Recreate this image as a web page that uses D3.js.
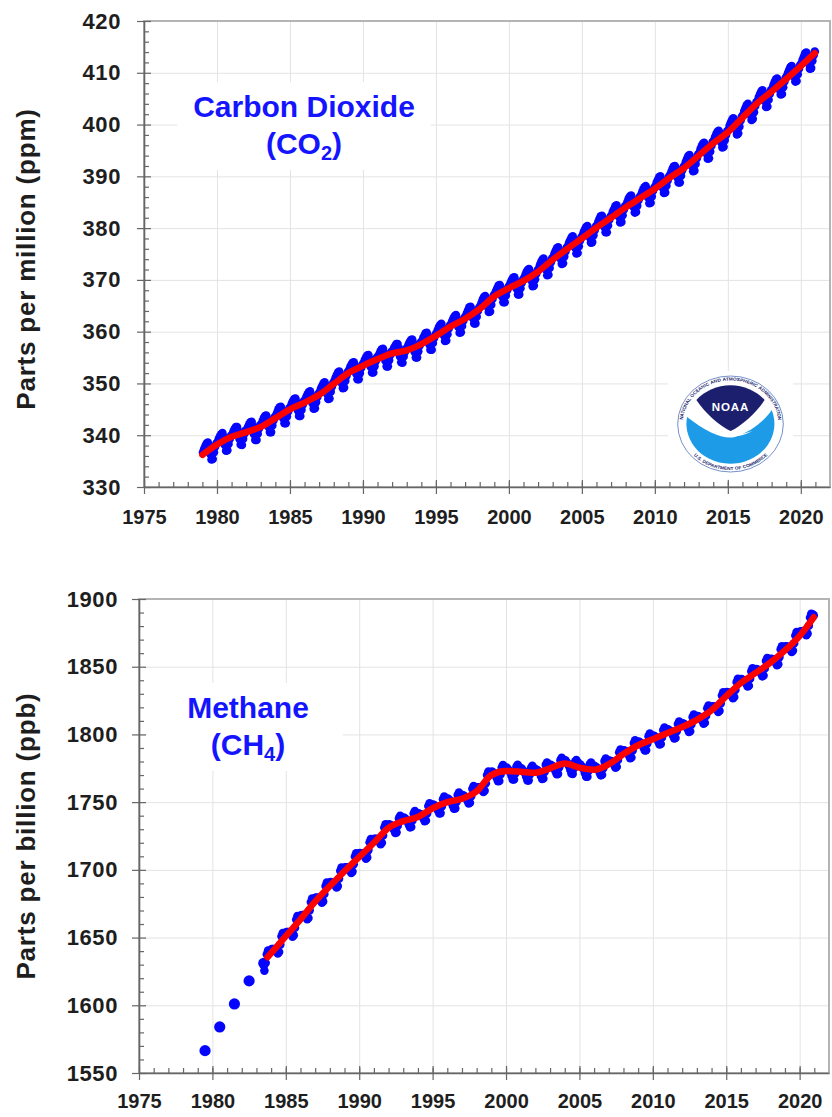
<!DOCTYPE html>
<html>
<head>
<meta charset="utf-8">
<script src="https://cdn.jsdelivr.net/npm/d3@7"></script>
<style>
  body { margin: 0; background: #fff; }
  svg { display: block; }
  text { font-family: "Liberation Sans", Arial, Helvetica, sans-serif; }
</style>
</head>
<body>
<svg id="chart" width="832" height="1117"></svg>
<script>
// ---- Axis tick values ----
const yearTicks = [1975, 1980, 1985, 1990, 1995, 2000, 2005, 2010, 2015, 2020];
const co2Ticks = [330, 340, 350, 360, 370, 380, 390, 400, 410, 420];
const ch4Ticks = [1550, 1600, 1650, 1700, 1750, 1800, 1850, 1900];

// ---- Global monthly mean CO2 (ppm), one row per year: [year, Jan..Dec] ----
const co2Monthly = [
  [1979, 336.7, 337.4, 337.9, 338.4, 338.6, 337.8, 336.4, 335.3, 335.4, 336.7, 337.8, 338.4],
  [1980, 338.7, 339.3, 339.8, 340.2, 340.4, 339.6, 338.1, 337.0, 337.1, 338.3, 339.3, 339.9],
  [1981, 340.1, 340.7, 341.2, 341.6, 341.6, 340.8, 339.3, 338.2, 338.1, 339.3, 340.3, 340.9],
  [1982, 341.0, 341.6, 342.1, 342.5, 342.6, 341.8, 340.2, 339.1, 339.1, 340.3, 341.3, 341.9],
  [1983, 342.1, 342.7, 343.3, 343.7, 343.8, 343.1, 341.6, 340.6, 340.6, 341.9, 342.9, 343.5],
  [1984, 343.8, 344.4, 345.0, 345.4, 345.5, 344.8, 343.3, 342.3, 342.3, 343.6, 344.6, 345.2],
  [1985, 345.5, 346.1, 346.6, 347.0, 347.1, 346.3, 344.8, 343.7, 343.7, 344.9, 345.9, 346.6],
  [1986, 346.8, 347.4, 347.9, 348.3, 348.5, 347.7, 346.2, 345.1, 345.2, 346.4, 347.4, 348.0],
  [1987, 348.3, 349.0, 349.5, 350.0, 350.2, 349.5, 348.0, 347.0, 347.1, 348.4, 349.4, 350.1],
  [1988, 350.4, 351.1, 351.6, 352.1, 352.3, 351.6, 350.1, 349.1, 349.2, 350.5, 351.5, 352.2],
  [1989, 352.5, 353.1, 353.6, 354.0, 354.1, 353.3, 351.9, 350.8, 350.8, 352.0, 353.0, 353.6],
  [1990, 353.9, 354.5, 355.0, 355.4, 355.5, 354.7, 353.2, 352.1, 352.1, 353.3, 354.3, 355.0],
  [1991, 355.2, 355.7, 356.2, 356.6, 356.7, 355.9, 354.4, 353.3, 353.3, 354.5, 355.5, 356.1],
  [1992, 356.2, 356.8, 357.2, 357.6, 357.6, 356.8, 355.2, 354.1, 354.0, 355.2, 356.1, 356.7],
  [1993, 356.9, 357.5, 358.0, 358.4, 358.5, 357.7, 356.1, 355.0, 355.0, 356.2, 357.3, 357.9],
  [1994, 358.1, 358.7, 359.2, 359.7, 359.8, 359.0, 357.6, 356.5, 356.5, 357.8, 358.8, 359.4],
  [1995, 359.7, 360.3, 360.9, 361.3, 361.5, 360.7, 359.3, 358.2, 358.3, 359.5, 360.6, 361.2],
  [1996, 361.5, 362.1, 362.6, 363.0, 363.2, 362.4, 360.9, 359.8, 359.9, 361.1, 362.1, 362.7],
  [1997, 363.0, 363.6, 364.2, 364.7, 364.8, 364.1, 362.6, 361.6, 361.6, 362.9, 364.0, 364.6],
  [1998, 364.9, 365.6, 366.2, 366.7, 366.9, 366.2, 364.8, 363.8, 363.9, 365.2, 366.3, 367.0],
  [1999, 367.3, 367.9, 368.4, 368.9, 369.0, 368.2, 366.8, 365.7, 365.7, 367.0, 368.0, 368.6],
  [2000, 368.9, 369.5, 370.0, 370.4, 370.5, 369.7, 368.3, 367.2, 367.2, 368.4, 369.4, 370.0],
  [2001, 370.3, 370.9, 371.5, 371.9, 372.1, 371.3, 369.9, 368.8, 368.9, 370.1, 371.2, 371.8],
  [2002, 372.1, 372.8, 373.4, 373.9, 374.1, 373.4, 372.0, 370.9, 371.0, 372.3, 373.4, 374.1],
  [2003, 374.4, 375.1, 375.6, 376.1, 376.3, 375.6, 374.1, 373.1, 373.2, 374.5, 375.5, 376.2],
  [2004, 376.5, 377.2, 377.7, 378.2, 378.4, 377.6, 376.2, 375.1, 375.2, 376.5, 377.6, 378.2],
  [2005, 378.5, 379.2, 379.7, 380.2, 380.4, 379.7, 378.2, 377.2, 377.3, 378.6, 379.6, 380.3],
  [2006, 380.6, 381.2, 381.8, 382.3, 382.4, 381.7, 380.2, 379.2, 379.2, 380.5, 381.6, 382.2],
  [2007, 382.5, 383.2, 383.7, 384.2, 384.4, 383.6, 382.2, 381.1, 381.2, 382.5, 383.6, 384.2],
  [2008, 384.5, 385.1, 385.7, 386.1, 386.3, 385.5, 384.1, 383.0, 383.1, 384.3, 385.4, 386.0],
  [2009, 386.3, 386.9, 387.5, 387.9, 388.1, 387.3, 385.9, 384.8, 384.9, 386.1, 387.2, 387.8],
  [2010, 388.1, 388.8, 389.3, 389.8, 390.0, 389.3, 387.8, 386.8, 386.9, 388.2, 389.2, 389.9],
  [2011, 390.2, 390.8, 391.4, 391.9, 392.0, 391.3, 389.8, 388.8, 388.8, 390.1, 391.2, 391.8],
  [2012, 392.1, 392.8, 393.4, 393.9, 394.1, 393.4, 392.0, 391.0, 391.1, 392.4, 393.5, 394.2],
  [2013, 394.5, 395.2, 395.8, 396.3, 396.5, 395.8, 394.4, 393.4, 393.5, 394.8, 395.9, 396.6],
  [2014, 396.9, 397.6, 398.1, 398.6, 398.8, 398.1, 396.6, 395.6, 395.7, 397.0, 398.0, 398.7],
  [2015, 399.0, 399.8, 400.4, 400.9, 401.2, 400.5, 399.1, 398.1, 398.3, 399.6, 400.8, 401.5],
  [2016, 401.8, 402.6, 403.2, 403.7, 404.0, 403.3, 401.9, 400.9, 401.1, 402.4, 403.6, 404.3],
  [2017, 404.6, 405.3, 405.9, 406.4, 406.6, 405.9, 404.5, 403.4, 403.5, 404.8, 405.9, 406.6],
  [2018, 406.9, 407.6, 408.2, 408.7, 408.9, 408.2, 406.8, 405.8, 405.9, 407.2, 408.3, 409.0],
  [2019, 409.3, 410.0, 410.6, 411.1, 411.3, 410.7, 409.3, 408.3, 408.4, 409.7, 410.8, 411.5],
  [2020, 411.8, 412.5, 413.1, 413.7, 413.9, 413.2, 411.8, 410.8, 410.9, 412.3, 413.4, 414.1]
];

// ---- Deseasonalized CO2 trend (ppm): [decimal year, value] ----
const co2Trend = [
  [1979.0, 336.2], [1980.0, 338.2], [1981.0, 339.7], [1982.0, 340.6], [1983.0, 341.6],
  [1984.0, 343.3], [1985.0, 345.0], [1986.0, 346.3], [1987.0, 347.8], [1988.0, 349.9],
  [1989.0, 352.0], [1990.0, 353.4], [1991.0, 354.7], [1992.0, 355.8], [1993.0, 356.4],
  [1994.0, 357.6], [1995.0, 359.2], [1996.0, 361.0], [1997.0, 362.5], [1998.0, 364.4],
  [1999.0, 366.8], [2000.0, 368.4], [2001.0, 369.8], [2002.0, 371.6], [2003.0, 373.9],
  [2004.0, 376.0], [2005.0, 378.0], [2006.0, 380.1], [2007.0, 382.0], [2008.0, 384.0],
  [2009.0, 385.8], [2010.0, 387.6], [2011.0, 389.7], [2012.0, 391.6], [2013.0, 394.0],
  [2014.0, 396.4], [2015.0, 398.5], [2016.0, 401.3], [2017.0, 404.1], [2018.0, 406.4],
  [2019.0, 408.8], [2020.0, 411.3], [2020.96, 413.8]
];

// ---- Early annual CH4 estimates (ppb): [decimal year, value] ----
const ch4Early = [
  [1979.5, 1566.5], [1980.5, 1584.0], [1981.5, 1601.0], [1982.5, 1618.0], [1983.5, 1631.0]
];

// ---- Global monthly mean CH4 (ppb), one row per year: [year, Jan..Dec] ----
const ch4Monthly = [
  [1983, null, null, null, null, null, null, 1625.6, 1631.4, 1637.6, 1640.4, 1640.1, 1639.4],
  [1984, 1641.5, 1641.6, 1641.6, 1641.1, 1639.7, 1638.2, 1639.3, 1644.8, 1650.9, 1653.4, 1652.9, 1652.0],
  [1985, 1654.0, 1654.1, 1654.1, 1653.6, 1652.2, 1650.7, 1651.8, 1657.3, 1663.4, 1665.9, 1665.4, 1664.5],
  [1986, 1666.5, 1666.6, 1666.7, 1666.3, 1664.9, 1663.5, 1664.5, 1670.1, 1676.2, 1678.8, 1678.4, 1677.5],
  [1987, 1679.5, 1679.4, 1679.4, 1678.9, 1677.3, 1675.8, 1676.7, 1682.2, 1688.1, 1690.6, 1690.1, 1689.0],
  [1988, 1691.0, 1690.9, 1690.8, 1690.2, 1688.6, 1687.0, 1688.0, 1693.4, 1699.3, 1701.7, 1701.1, 1700.0],
  [1989, 1701.9, 1701.8, 1701.7, 1701.1, 1699.4, 1697.8, 1698.7, 1704.1, 1709.9, 1712.3, 1711.7, 1710.6],
  [1990, 1712.4, 1712.3, 1712.2, 1711.6, 1709.9, 1708.3, 1709.2, 1714.6, 1720.4, 1722.8, 1722.2, 1721.1],
  [1991, 1723.0, 1722.9, 1722.8, 1722.2, 1720.6, 1719.0, 1720.0, 1725.4, 1731.3, 1733.7, 1733.1, 1732.0],
  [1992, 1733.7, 1733.1, 1732.5, 1731.5, 1729.4, 1727.3, 1727.7, 1732.6, 1738.0, 1740.0, 1738.9, 1737.3],
  [1993, 1738.6, 1737.9, 1737.1, 1735.9, 1733.6, 1731.4, 1731.6, 1736.4, 1741.6, 1743.4, 1742.1, 1740.4],
  [1994, 1741.8, 1741.3, 1740.9, 1739.9, 1737.9, 1736.0, 1736.5, 1741.6, 1747.1, 1749.1, 1748.2, 1746.7],
  [1995, 1748.2, 1747.6, 1746.9, 1745.8, 1743.7, 1741.6, 1741.9, 1746.8, 1752.2, 1754.1, 1752.9, 1751.3],
  [1996, 1752.6, 1751.8, 1751.0, 1749.7, 1747.4, 1745.1, 1745.4, 1750.1, 1755.3, 1757.0, 1755.7, 1753.9],
  [1997, 1755.2, 1754.7, 1754.1, 1753.1, 1751.1, 1749.0, 1749.5, 1754.4, 1759.9, 1761.9, 1760.8, 1759.3],
  [1998, 1761.0, 1761.0, 1761.0, 1760.5, 1759.0, 1757.5, 1758.5, 1764.0, 1770.0, 1772.5, 1772.0, 1771.0],
  [1999, 1772.6, 1771.9, 1771.1, 1769.9, 1767.6, 1765.4, 1765.6, 1770.4, 1775.6, 1777.4, 1776.1, 1774.4],
  [2000, 1775.5, 1774.4, 1773.4, 1771.9, 1769.3, 1766.8, 1766.7, 1771.2, 1776.1, 1777.6, 1776.1, 1774.0],
  [2001, 1775.0, 1773.9, 1772.8, 1771.3, 1768.7, 1766.1, 1766.1, 1770.5, 1775.4, 1776.9, 1775.3, 1773.2],
  [2002, 1774.3, 1773.6, 1772.9, 1771.7, 1769.4, 1767.2, 1767.5, 1772.3, 1777.5, 1779.3, 1778.1, 1776.4],
  [2003, 1777.6, 1776.9, 1776.2, 1775.0, 1772.8, 1770.6, 1770.9, 1775.7, 1781.0, 1782.8, 1781.6, 1779.9],
  [2004, 1780.9, 1779.6, 1778.4, 1776.6, 1773.9, 1771.1, 1770.9, 1775.1, 1779.9, 1781.1, 1779.4, 1777.1],
  [2005, 1777.9, 1776.8, 1775.7, 1774.1, 1771.4, 1768.8, 1768.7, 1773.1, 1777.9, 1779.3, 1777.7, 1775.6],
  [2006, 1776.7, 1776.0, 1775.3, 1774.2, 1772.0, 1769.8, 1770.2, 1775.0, 1780.3, 1782.2, 1781.0, 1779.3],
  [2007, 1780.8, 1780.4, 1780.1, 1779.2, 1777.3, 1775.4, 1776.1, 1781.2, 1786.8, 1788.9, 1788.1, 1786.7],
  [2008, 1788.3, 1787.8, 1787.4, 1786.4, 1784.4, 1782.5, 1783.0, 1788.1, 1793.6, 1795.6, 1794.7, 1793.2],
  [2009, 1794.7, 1794.1, 1793.4, 1792.3, 1790.2, 1788.1, 1788.4, 1793.3, 1798.7, 1800.6, 1799.4, 1797.8],
  [2010, 1799.2, 1798.6, 1797.9, 1796.8, 1794.7, 1792.6, 1792.9, 1797.8, 1803.2, 1805.1, 1803.9, 1802.3],
  [2011, 1803.7, 1803.1, 1802.4, 1801.3, 1799.2, 1797.1, 1797.4, 1802.3, 1807.7, 1809.6, 1808.4, 1806.8],
  [2012, 1808.2, 1807.7, 1807.1, 1806.0, 1804.0, 1801.9, 1802.4, 1807.3, 1812.8, 1814.7, 1813.6, 1812.1],
  [2013, 1813.6, 1813.2, 1812.8, 1811.8, 1809.9, 1808.0, 1808.6, 1813.7, 1819.3, 1821.3, 1820.4, 1819.0],
  [2014, 1820.7, 1820.6, 1820.5, 1819.9, 1818.2, 1816.6, 1817.5, 1822.9, 1828.7, 1831.1, 1830.5, 1829.4],
  [2015, 1831.2, 1831.0, 1830.8, 1830.1, 1828.4, 1826.7, 1827.6, 1832.9, 1838.7, 1841.0, 1840.3, 1839.1],
  [2016, 1840.8, 1840.4, 1840.0, 1839.2, 1837.3, 1835.4, 1836.0, 1841.1, 1846.7, 1848.9, 1848.0, 1846.6],
  [2017, 1848.2, 1847.9, 1847.5, 1846.6, 1844.8, 1842.9, 1843.5, 1848.7, 1854.3, 1856.4, 1855.6, 1854.2],
  [2018, 1855.9, 1855.6, 1855.4, 1854.6, 1852.9, 1851.1, 1851.9, 1857.1, 1862.9, 1865.1, 1864.4, 1863.1],
  [2019, 1865.0, 1864.9, 1864.7, 1864.2, 1862.6, 1860.9, 1861.9, 1867.3, 1873.1, 1875.6, 1875.0, 1873.8],
  [2020, 1875.9, 1876.1, 1876.3, 1875.9, 1874.6, 1873.3, 1874.5, 1880.2, 1886.4, 1889.0, 1888.7, 1887.9]
];

// ---- Deseasonalized CH4 trend (ppb): [decimal year, value] ----
const ch4Trend = [
  [1983.75, 1635.5], [1984.0, 1638.5], [1985.0, 1651.0], [1986.0, 1663.5], [1987.0, 1676.5],
  [1988.0, 1688.0], [1989.0, 1699.0], [1990.0, 1709.5], [1991.0, 1720.0], [1992.0, 1731.0],
  [1993.0, 1736.0], [1994.0, 1739.0], [1995.0, 1745.5], [1996.0, 1750.0], [1997.0, 1752.5],
  [1998.0, 1758.0], [1999.0, 1770.0], [2000.0, 1773.0], [2001.0, 1772.5], [2002.0, 1771.7],
  [2003.0, 1775.0], [2004.0, 1778.5], [2005.0, 1775.5], [2006.0, 1774.0], [2007.0, 1778.0],
  [2008.0, 1785.5], [2009.0, 1792.0], [2010.0, 1796.5], [2011.0, 1801.0], [2012.0, 1805.5],
  [2013.0, 1810.8], [2014.0, 1817.8], [2015.0, 1828.3], [2016.0, 1838.0], [2017.0, 1845.4],
  [2018.0, 1853.0], [2019.0, 1862.0], [2020.0, 1872.8], [2020.96, 1886.5]
];

// Expand [year, Jan..Dec] rows into mid-month points
function monthlyPoints(rows) {
  const pts = [];
  rows.forEach(([yr, ...vals]) => {
    vals.forEach((v, i) => { if (v != null) pts.push([yr + (i + 0.5) / 12, v]); });
  });
  return pts;
}

const svg = d3.select("#chart");
svg.append("rect").attr("width", 832).attr("height", 1117).attr("fill", "#fff");
const defs = svg.append("defs");

const BLUE = "#0505ff";
const RED = "#ff0000";
const INK = "#1e1e1e";
const AXIS = "#666";

function drawPanel(cfg) {
  const g = svg.append("g");
  const x = d3.scaleLinear().domain([1975, 2022]).range([cfg.left, cfg.right]);
  const y = d3.scaleLinear().domain(cfg.yDomain).range([cfg.bottom, cfg.top]);
  const h = cfg.bottom - cfg.top, w = cfg.right - cfg.left;

  // gridlines
  const gx = g.append("g").attr("transform", `translate(0,${cfg.bottom})`)
    .call(d3.axisBottom(x).tickValues(yearTicks).tickSize(-h).tickFormat(""));
  const gy = g.append("g").attr("transform", `translate(${cfg.left},0)`)
    .call(d3.axisLeft(y).tickValues(cfg.yTicks).tickSize(-w).tickFormat(""));
  [gx, gy].forEach(a => {
    a.select(".domain").remove();
    a.selectAll("line").attr("class", "grid").attr("stroke", "#e3e3e3").attr("stroke-width", 1);
  });

  // frame (top and right edges lighter)
  g.append("rect").attr("x", cfg.left).attr("y", cfg.top).attr("width", w).attr("height", h)
    .attr("fill", "none").attr("stroke", "#b4b4b4").attr("stroke-width", 2);

  // gas name on a white box
  const title = g.append("g");
  title.append("text").attr("x", cfg.titleX).attr("y", cfg.titleY)
    .attr("text-anchor", "middle").attr("font-size", 30).attr("font-weight", "bold")
    .attr("fill", "#1414ff").text(cfg.name);
  const t2 = title.append("text").attr("x", cfg.titleX).attr("y", cfg.titleY + 37)
    .attr("text-anchor", "middle").attr("font-size", 30).attr("font-weight", "bold")
    .attr("fill", "#1414ff");
  t2.append("tspan").text("(" + cfg.formula);
  t2.append("tspan").attr("font-size", 20).attr("dy", 6).text(cfg.sub);
  t2.append("tspan").attr("dy", -6).text(")");
  const bb = title.node().getBBox();
  g.insert("rect", () => title.node())
    .attr("x", bb.x - cfg.padL).attr("y", bb.y - 8)
    .attr("width", bb.width + cfg.padL + cfg.padR).attr("height", bb.height + 14)
    .attr("fill", "#fff");

  // monthly observations
  g.append("g").selectAll("circle").data(monthlyPoints(cfg.monthly)).join("circle")
    .attr("cx", d => x(d[0])).attr("cy", d => y(d[1])).attr("r", 4.3).attr("fill", BLUE);

  if (cfg.early) {
    g.append("g").selectAll("circle").data(cfg.early).join("circle")
      .attr("cx", d => x(d[0])).attr("cy", d => y(d[1])).attr("r", 5.6).attr("fill", BLUE);
  }

  // trend line
  g.append("path").datum(cfg.trend)
    .attr("d", d3.line().x(d => x(d[0])).y(d => y(d[1])).curve(d3.curveMonotoneX))
    .attr("fill", "none").attr("stroke", RED).attr("stroke-width", 6.5)
    .attr("stroke-linecap", "round").attr("stroke-linejoin", "round");

  // bottom axis: labels + outward major ticks
  const ax = g.append("g").attr("transform", `translate(0,${cfg.bottom})`)
    .call(d3.axisBottom(x).tickValues(yearTicks).tickSizeInner(7).tickSizeOuter(0)
      .tickPadding(cfg.xPad).tickFormat(d3.format("d")));
  ax.selectAll("text").attr("font-size", 20).attr("font-weight", "bold").attr("fill", INK)
    .attr("font-family", "Liberation Sans, Arial, sans-serif");
  // inward major ticks
  g.append("g").attr("transform", `translate(0,${cfg.bottom})`)
    .call(d3.axisBottom(x).tickValues(yearTicks).tickSizeInner(-7).tickSizeOuter(0).tickFormat(""))
    .select(".domain").remove();
  // yearly minor ticks
  g.append("g").attr("transform", `translate(0,${cfg.bottom})`)
    .call(d3.axisBottom(x).tickValues(d3.range(1976, 2022)).tickSizeInner(-5).tickSizeOuter(0).tickFormat(""))
    .select(".domain").remove();

  // left axis
  const ay = g.append("g").attr("transform", `translate(${cfg.left},0)`)
    .call(d3.axisLeft(y).tickValues(cfg.yTicks).tickSizeInner(7).tickSizeOuter(0)
      .tickPadding(cfg.yPad).tickFormat(d3.format("d")));
  ay.selectAll("text").attr("font-size", 22).attr("font-weight", "bold").attr("fill", INK)
    .attr("letter-spacing", 0.6).attr("font-family", "Liberation Sans, Arial, sans-serif");
  g.append("g").attr("transform", `translate(${cfg.left},0)`)
    .call(d3.axisLeft(y).tickValues(cfg.yTicks).tickSizeInner(-7).tickSizeOuter(0).tickFormat(""))
    .select(".domain").remove();
  g.append("g").attr("transform", `translate(${cfg.left},0)`)
    .call(d3.axisLeft(y).tickValues(cfg.yMinor).tickSizeInner(-5).tickSizeOuter(0).tickFormat(""))
    .select(".domain").remove();

  g.selectAll(".tick line:not(.grid)").attr("stroke", AXIS).attr("stroke-width", 1.2);
  g.selectAll(".domain").attr("stroke", AXIS).attr("stroke-width", 1.6);

  // y-axis title
  g.append("text")
    .attr("transform", `translate(${cfg.labelX},${cfg.labelY}) rotate(-90)`)
    .attr("text-anchor", "middle").attr("dominant-baseline", "middle")
    .attr("font-size", 26).attr("letter-spacing", 0.8).attr("font-weight", "bold").attr("fill", INK)
    .text(cfg.yLabel);

  return { x, y, g };
}

drawPanel({
  top: 21, bottom: 487, left: 144, right: 830,
  yDomain: [330, 420], yTicks: co2Ticks, yMinor: d3.range(332, 420, 2).filter(v => v % 10 !== 0),
  monthly: co2Monthly, trend: co2Trend,
  name: "Carbon Dioxide", formula: "CO", sub: "2",
  titleX: 304, titleY: 117, padL: 16, padR: 16,
  xPad: 16, yPad: 16, labelX: 28, labelY: 259,
  yLabel: "Parts per million (ppm)"
});

drawPanel({
  top: 599, bottom: 1073, left: 139, right: 829,
  yDomain: [1550, 1900], yTicks: ch4Ticks, yMinor: d3.range(1560, 1900, 10).filter(v => v % 50 !== 0),
  monthly: ch4Monthly, trend: ch4Trend, early: ch4Early,
  name: "Methane", formula: "CH", sub: "4",
  titleX: 248, titleY: 718, padL: 40, padR: 34,
  xPad: 14, yPad: 14, labelX: 28, labelY: 836,
  yLabel: "Parts per billion (ppb)"
});

// ---- NOAA emblem ----
const NAVY = "#1b1f6e";
const SKY = "#1d9be6";
svg.append("rect").attr("x", 668).attr("y", 371).attr("width", 125).attr("height", 108).attr("fill", "#fff");
const logo = svg.append("g").attr("transform", "translate(730.5,424) scale(1.1,1)");
logo.append("circle").attr("r", 48).attr("fill", "#fff").attr("stroke", "#5a7ac0").attr("stroke-width", 0.8);
defs.append("path").attr("id", "ringTop").attr("d", "M -43.5 0 A 43.5 43.5 0 0 1 43.5 0");
defs.append("path").attr("id", "ringBottom").attr("d", "M -46 0 A 46 46 0 0 0 46 0");

// ring lettering, one word at a time so every word hugs the rim
function ringWords(words, pathId, arcLen, gap) {
  const size = 4.4;
  const probe = logo.append("text").attr("font-size", size).attr("font-weight", "bold");
  const lens = words.map(wd => { probe.text(wd); return probe.node().getComputedTextLength(); });
  probe.remove();
  const total = d3.sum(lens) + gap * (words.length - 1);
  let pos = (arcLen - total) / 2;
  words.forEach((wd, i) => {
    logo.append("text").attr("font-size", size).attr("font-weight", "bold").attr("fill", NAVY)
      .append("textPath").attr("href", "#" + pathId).attr("startOffset", pos).text(wd);
    pos += lens[i] + gap;
  });
}
ringWords(["NATIONAL", "OCEANIC", "AND", "ATMOSPHERIC", "ADMINISTRATION"], "ringTop", Math.PI * 43.5, 1.6);
ringWords(["U.S.", "DEPARTMENT", "OF", "COMMERCE"], "ringBottom", Math.PI * 46, 1.6);

logo.append("path").attr("fill", NAVY)
  .attr("d", "M -31 -24 A 40 40 0 0 1 31 -24 C 24 -12, 10 2, 0 7 C -10 2, -24 -12, -31 -24 Z");
logo.append("path").attr("fill", SKY)
  .attr("d", "M -39.5 -7 C -22 8, -6 16, 4 13 C 18 8, 30 -2, 37.5 -14 A 40 40 0 1 1 -39.5 -7 Z");
logo.append("path").attr("fill", "#fff")
  .attr("d", "M -12 9 C 0 12, 10 11, 20 7 C 10 13, 0 14.5, -12 9 Z");
logo.append("text").attr("y", -13).attr("text-anchor", "middle")
  .attr("font-family", "DejaVu Sans, sans-serif").attr("font-size", 10.5).attr("font-weight", "bold")
  .attr("letter-spacing", 0.8).attr("fill", "#fff").text("NOAA");
</script>
</body>
</html>
